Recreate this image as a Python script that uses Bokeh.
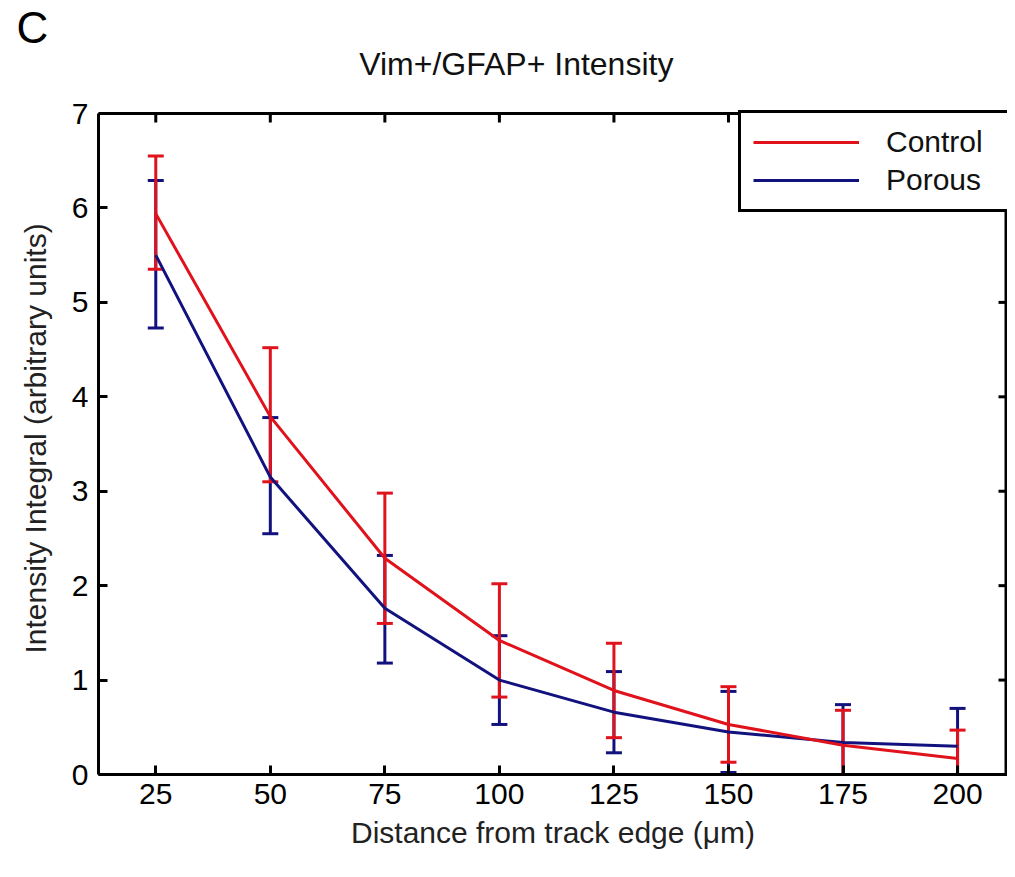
import math
from bokeh.plotting import figure
from bokeh.models import (ColumnDataSource, Whisker, TeeHead, FixedTicker, Span,
                          Range1d, Title, Label, Legend, LegendItem)
from bokeh.embed import file_html
from bokeh.resources import INLINE

# ---- data ----
distance = [25, 50, 75, 100, 125, 150, 175, 200]
control = [5.94, 3.79, 2.29, 1.42, 0.89, 0.53, 0.31, 0.17]
control_upper = [6.55, 4.52, 2.98, 2.02, 1.39, 0.93, 0.68, 0.47]
control_lower = [5.35, 3.10, 1.60, 0.82, 0.39, 0.13, -0.06, -0.13]
porous = [5.50, 3.15, 1.76, 1.00, 0.66, 0.45, 0.34, 0.30]
porous_upper = [6.29, 3.78, 2.32, 1.47, 1.09, 0.88, 0.74, 0.70]
porous_lower = [4.73, 2.55, 1.18, 0.53, 0.23, 0.02, -0.06, -0.10]
x_ticks = [25, 50, 75, 100, 125, 150, 175, 200]
y_ticks = [0, 1, 2, 3, 4, 5, 6, 7]
title_text = "Vim+/GFAP+ Intensity"
panel_letter = "C"
x_label = "Distance from track edge (\u03bcm)"
y_label = "Intensity Integral (arbitrary units)"

# axes box limits
X_START, X_END = 12.5, 210.9
Y_START, Y_END = 0, 7
Y_ROOM = 7.657   # headroom above the box for the title

RED = "#E0121C"
BLUE = "#12127E"
FONT = "Liberation Sans"
FS = "30px"

p = figure(width=1007, height=861, output_backend="svg", toolbar_location=None,
           title_location=None,
           x_range=Range1d(X_START, X_END), y_range=Range1d(Y_START, Y_ROOM),
           min_border_left=97, min_border_right=0, min_border_top=51, min_border_bottom=87)
p.xgrid.visible = False
p.ygrid.visible = False
p.outline_line_color = None
p.background_fill_color = "white"
p.border_fill_color = "white"

# box: top edge, right edge and inward ticks on top/right
p.add_layout(Span(location=Y_END, dimension="width", line_color="black", line_width=3))
p.segment(x0=[X_END], y0=[Y_START], x1=[X_END], y1=[Y_END], line_color="black", line_width=6)
p.ray(x=x_ticks, y=[Y_END] * len(x_ticks), length=9, length_units="screen",
      angle=-math.pi / 2, line_color="black", line_width=3)
p.ray(x=[X_END] * len(y_ticks), y=y_ticks, length=9, length_units="screen",
      angle=math.pi, line_color="black", line_width=3)

src_c = ColumnDataSource(dict(x=distance, y=control, upper=control_upper, lower=control_lower))
src_p = ColumnDataSource(dict(x=distance, y=porous, upper=porous_upper, lower=porous_lower))

r_p = p.line("x", "y", source=src_p, line_color=BLUE, line_width=3)
p.add_layout(Whisker(source=src_p, base="x", upper="upper", lower="lower",
                     line_color=BLUE, line_width=3,
                     upper_head=TeeHead(size=16, line_color=BLUE, line_width=3),
                     lower_head=TeeHead(size=16, line_color=BLUE, line_width=3)))
r_c = p.line("x", "y", source=src_c, line_color=RED, line_width=3)
p.add_layout(Whisker(source=src_c, base="x", upper="upper", lower="lower",
                     line_color=RED, line_width=3,
                     upper_head=TeeHead(size=16, line_color=RED, line_width=3),
                     lower_head=TeeHead(size=16, line_color=RED, line_width=3)))

for ax in p.xaxis + p.yaxis:
    ax.axis_line_width = 3
    ax.axis_line_color = "black"
    ax.major_tick_in = 9
    ax.major_tick_out = 0
    ax.major_tick_line_width = 3
    ax.minor_tick_in = 0
    ax.minor_tick_out = 0
    ax.major_label_text_font = FONT
    ax.major_label_text_font_size = FS
    ax.major_label_text_color = "black"
    ax.axis_label_text_font = FONT
    ax.axis_label_text_font_size = FS
    ax.axis_label_text_font_style = "normal"
    ax.axis_label_text_color = "#222222"

p.xaxis.ticker = FixedTicker(ticks=x_ticks)
p.yaxis.ticker = FixedTicker(ticks=y_ticks)
p.yaxis.bounds = (Y_START, Y_END)
p.xaxis.axis_label = x_label
p.xaxis.major_label_standoff = 9
p.yaxis.major_label_standoff = 10
p.xaxis.axis_label_standoff = 9

# y axis label as a side title so it can be centred on the box
p.add_layout(Title(text=y_label, align="left", offset=121, standoff=33,
                   text_font=FONT, text_font_size=FS, text_font_style="normal",
                   text_color="#222222"), "left")

legend = Legend(items=[LegendItem(label="Control", renderers=[r_c]),
                       LegendItem(label="Porous", renderers=[r_p])],
                location=(640, 562), margin=0, padding=12, spacing=4,
                glyph_width=106, glyph_height=32, label_height=32, label_width=110,
                label_standoff=27, label_text_font=FONT, label_text_font_size=FS,
                label_text_color="#111111",
                border_line_color="black", border_line_width=3, border_line_alpha=1.0,
                background_fill_color="white", background_fill_alpha=1.0)
p.add_layout(legend)

p.add_layout(Label(x=69.4, y=7.52, text=title_text, text_align="left",
                   text_baseline="alphabetic", text_font=FONT, text_font_size="32px",
                   text_color="#111111"))
p.add_layout(Title(text=panel_letter, align="left", offset=-82, standoff=0,
                   text_font=FONT, text_font_size="44px", text_font_style="normal",
                   text_color="black"), "above")

open("out.html", "w").write(file_html(p, INLINE))
